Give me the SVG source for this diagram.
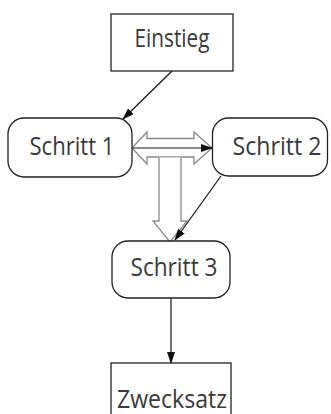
<svg xmlns="http://www.w3.org/2000/svg" width="331" height="414" viewBox="0 0 331 414">
<style>
.box{fill:#fff;stroke:#222;stroke-width:1.3}
.t{font-family:"Open Sans","Noto Sans",sans-serif;font-size:25.5px;fill:#3a3a3a;text-anchor:middle}
.c{stroke:#111;stroke-width:1.2;fill:none}
.h{fill:#fff;stroke:#8a8a8a;stroke-width:1.3;stroke-linejoin:miter}
</style>
<defs>
<marker id="ah" markerWidth="12" markerHeight="8" refX="11" refY="4" orient="auto" markerUnits="userSpaceOnUse">
<path d="M0,0 L12,4 L0,8 Z" fill="#111"/>
</marker>
</defs>
<rect width="331" height="414" fill="#fff"/>
<g id="connectors">
<path class="h" d="M132,148 L147,132 L147,138.5 L194,138.5 L194,132 L212,148 L194,164 L194,157 L147,157 L147,164 Z"/>
<path class="h" d="M159,157.6 L159,221 L153,221 L170,242 L187,221 L181,221 L181,157.6"/>
<line class="c" x1="133" y1="148" x2="212" y2="148" marker-end="url(#ah)"/>
<line class="c" x1="172" y1="71" x2="123" y2="119" marker-end="url(#ah)"/>
<line class="c" x1="221" y1="176" x2="175" y2="240" marker-end="url(#ah)"/>
<line class="c" x1="171" y1="298" x2="171" y2="363" marker-end="url(#ah)"/>
</g>
<g id="einstieg">
<rect class="box" x="111" y="14" width="122" height="57"/>
<text class="t" x="172" y="47" textLength="75" lengthAdjust="spacingAndGlyphs">Einstieg</text>
</g>
<g id="schritt1">
<rect class="box" x="8" y="118" width="124" height="59" rx="16" ry="16"/>
<text class="t" x="72" y="155" textLength="85" lengthAdjust="spacingAndGlyphs">Schritt 1</text>
</g>
<g id="schritt2">
<rect class="box" x="212.5" y="118" width="115" height="58" rx="16" ry="16"/>
<text class="t" x="277" y="155" textLength="89" lengthAdjust="spacingAndGlyphs">Schritt 2</text>
</g>
<g id="schritt3">
<rect class="box" x="112" y="241" width="118" height="57" rx="16" ry="16"/>
<text class="t" x="174" y="276" textLength="87" lengthAdjust="spacingAndGlyphs">Schritt 3</text>
</g>
<g id="zwecksatz">
<rect class="box" x="111" y="363" width="120" height="70"/>
<text class="t" x="172" y="408" textLength="110" lengthAdjust="spacingAndGlyphs">Zwecksatz</text>
</g>
</svg>
